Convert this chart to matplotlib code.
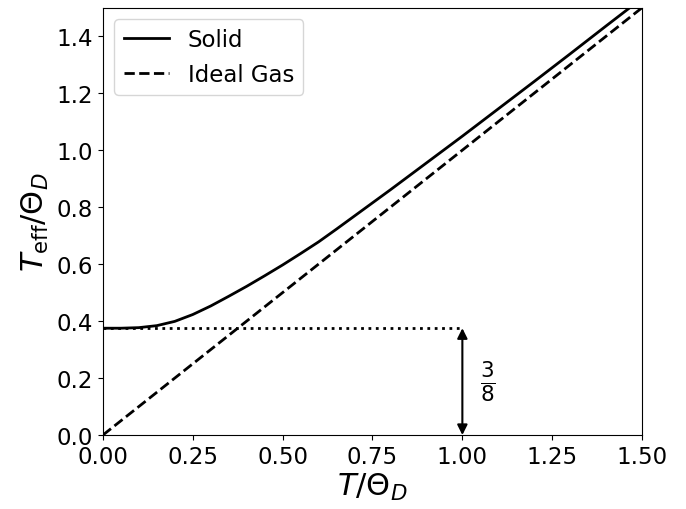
import matplotlib
matplotlib.use("Agg")
import matplotlib.pyplot as plt
import numpy as np

# valores
t_solid = [0.0, 0.05, 0.10, 0.15, 0.20, 0.25, 0.30, 0.35, 0.40, 0.45, 0.50, 0.55,
           0.60, 0.65, 0.70, 0.80, 0.90, 1.00, 1.10, 1.20, 1.30, 1.40, 1.50]
teff_solid = [0.375, 0.375, 0.377, 0.384, 0.399, 0.423, 0.453, 0.487, 0.522, 0.559, 0.597, 0.637,
              0.678, 0.723, 0.769, 0.861, 0.955, 1.049, 1.145, 1.241, 1.338, 1.436, 1.533]
t_gas = [0.0, 1.5]
teff_gas = [0.0, 1.5]
zero_point = 0.375
t_arrow = 1.0

fig = plt.figure(figsize=(6.86, 5.10), dpi=100)
ax = fig.add_axes([0.150, 0.145, 0.786, 0.838])

ax.plot(t_solid, teff_solid, color='k', lw=2, label='Solid')
ax.plot(t_gas, teff_gas, color='k', lw=2, ls='--', label='Ideal Gas')
ax.plot([0, t_arrow], [zero_point, zero_point], color='k', lw=2, ls=':')
ax.annotate('', xy=(t_arrow, 0), xytext=(t_arrow, zero_point),
            arrowprops=dict(arrowstyle='<|-|>', color='k', lw=1.5, mutation_scale=15,
                            shrinkA=0, shrinkB=0))
ax.text(t_arrow + 0.072, zero_point / 2, r'$\frac{3}{8}$', fontsize=22, va='center', ha='center')

ax.set_xlim(0, 1.5)
ax.set_ylim(0, 1.5)
ax.set_xticks([0, 0.25, 0.5, 0.75, 1.0, 1.25, 1.5])
ax.set_yticks([0, 0.2, 0.4, 0.6, 0.8, 1.0, 1.2, 1.4])
ax.tick_params(labelsize=16.5)
ax.set_xlabel(r'$T/\Theta_D$', fontsize=22, labelpad=2)
ax.set_ylabel(r'$T_{\rm eff}/\Theta_D$', fontsize=22)
ax.legend(loc='upper left', fontsize=16.5)

fig.savefig('out.png', dpi=100)
